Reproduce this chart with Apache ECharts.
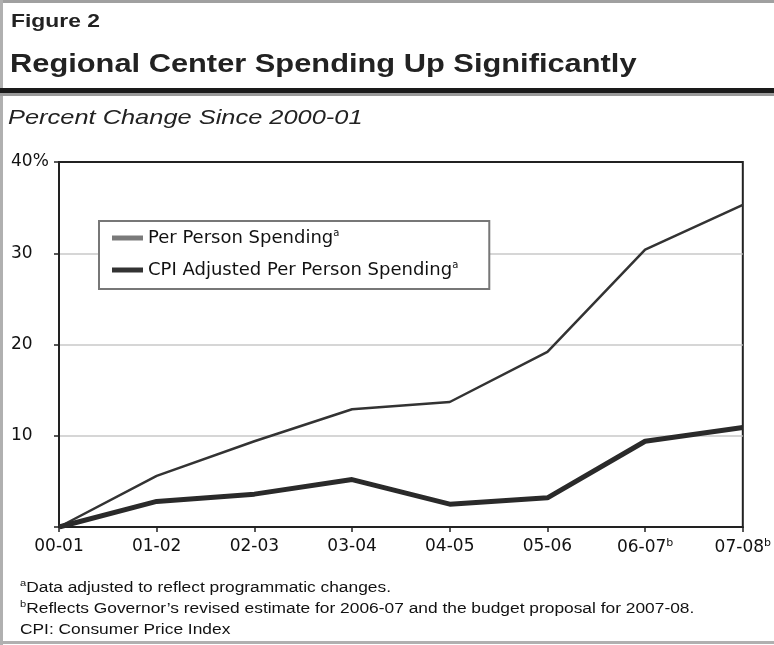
<!DOCTYPE html>
<html>
<head>
<meta charset="utf-8">
<script src="https://cdn.jsdelivr.net/npm/echarts@6/dist/echarts.min.js"></script>
<style>
html,body{margin:0;padding:0;background:#fff;}
#chart{width:774px;height:645px;}
</style>
</head>
<body>
<div id="chart"></div>
<script>
var categories = ['00-01', '01-02', '02-03', '03-04', '04-05', '05-06', '06-07', '07-08'];
var categoryNotes = ['', '', '', '', '', '', 'b', 'b'];
var perPersonSpending = [0, 5.6, 9.4, 12.9, 13.7, 19.2, 30.4, 35.3];
var cpiAdjustedSpending = [0, 2.8, 3.6, 5.2, 2.5, 3.2, 9.4, 10.9];
var seriesNames = ['Per Person Spending', 'CPI Adjusted Per Person Spending'];
var yTicks = [0, 10, 20, 30, 40];
var footnotes = [
  ['a', 'Data adjusted to reflect programmatic changes.'],
  ['b', 'Reflects Governor\u2019s revised estimate for 2006-07 and the budget proposal for 2007-08.'],
  ['', 'CPI: Consumer Price Index']
];

var FONT = 'Liberation Sans, Arial, sans-serif';
var WIDE = 'DejaVu Sans, sans-serif';
var chart = echarts.init(document.getElementById('chart'), null, {renderer: 'canvas'});

function headerText(str, font, x, y, sx) {
  return {type: 'text', x: x, y: y, scaleX: sx, silent: true,
    style: {text: str, x: 0, y: 0, font: font, fill: '#222', verticalAlign: 'middle', align: 'left'}};
}

var graphics = [
  {type: 'rect', shape: {x: 0, y: 0, width: 774, height: 3}, style: {fill: '#a0a0a0'}, silent: true},
  {type: 'rect', shape: {x: 0, y: 0, width: 3, height: 645}, style: {fill: '#b0b0b0'}, silent: true},
  {type: 'rect', shape: {x: 0, y: 641, width: 774, height: 3}, style: {fill: '#b0b0b0'}, silent: true},
  {type: 'rect', shape: {x: 0, y: 88, width: 774, height: 5}, style: {fill: '#1a1a1a'}, silent: true},
  {type: 'rect', shape: {x: 0, y: 93, width: 774, height: 3}, style: {fill: '#999'}, silent: true},
  headerText('Figure 2', 'bold 18px ' + FONT, 11, 22, 1.27),
  headerText('Regional Center Spending Up Significantly', 'bold 26px ' + FONT, 10, 65, 1.185),
  headerText('Percent Change Since 2000-01', 'italic 21px ' + FONT, 8, 118, 1.21)
];
var fnY = [588, 609, 630];
footnotes.forEach(function (f, i) {
  graphics.push({type: 'text', x: 20, y: fnY[i], scaleX: 1.24, silent: true,
    style: {
      text: (f[0] ? '{s|' + f[0] + '}' : '') + f[1],
      x: 0, y: 0, font: '14px ' + FONT, fill: '#111', verticalAlign: 'middle', lineHeight: 18,
      rich: {s: {fontSize: 9, verticalAlign: 'top', lineHeight: 18, fill: '#111', padding: [0, 0, 7, 0]}}
    }});
});

var option = {
  backgroundColor: '#fff',
  animation: false,
  grid: {left: 59, right: 31, top: 162, bottom: 118, show: true, borderColor: '#222', borderWidth: 2, containLabel: false},
  legend: {
    orient: 'vertical',
    left: 99, top: 221,
    padding: [7, 31, 9, 13],
    itemGap: 12,
    itemWidth: 31,
    itemHeight: 5,
    borderColor: '#777',
    borderWidth: 2,
    backgroundColor: '#fff',
    data: [
      {name: seriesNames[0], icon: 'rect', itemStyle: {color: '#7a7a7a'}},
      {name: seriesNames[1], icon: 'rect', itemStyle: {color: '#333'}}
    ],
    formatter: function (n) { return n + '{sup|a}'; },
    textStyle: {
      fontFamily: WIDE, fontSize: 18, color: '#111', lineHeight: 20,
      rich: {sup: {fontSize: 10, verticalAlign: 'top', fontFamily: WIDE, color: '#111', lineHeight: 20, padding: [0, 0, 8, 0]}}
    }
  },
  xAxis: {
    type: 'category',
    data: categories,
    boundaryGap: false,
    axisLine: {lineStyle: {color: '#222', width: 2}},
    axisTick: {show: true, length: 5, lineStyle: {color: '#222', width: 1.5}},
    axisLabel: {
      margin: 11,
      interval: 0,
      fontFamily: WIDE, fontSize: 17, color: '#111',
      formatter: function (v, i) { return categoryNotes[i] ? v + '{sup|' + categoryNotes[i] + '}' : v; },
      rich: {sup: {fontSize: 11, verticalAlign: 'top', fontFamily: WIDE, color: '#111', padding: [0, 0, 9, 0]}}
    },
    splitLine: {show: false}
  },
  yAxis: {
    type: 'value',
    min: yTicks[0], max: yTicks[yTicks.length - 1], interval: 10,
    axisLine: {show: true, lineStyle: {color: '#222', width: 2}},
    axisTick: {show: true, length: 5, lineStyle: {color: '#222', width: 1.5}},
    axisLabel: {
      align: 'left', margin: 48,
      fontFamily: WIDE, fontSize: 17, color: '#111',
      formatter: function (v) { return v === 0 ? '' : (v === 40 ? v + '%' : String(v)); }
    },
    splitLine: {show: true, lineStyle: {color: ['#222', '#c8c8c8', '#c8c8c8', '#c8c8c8', '#222'], width: 1.5}}
  },
  series: [
    {
      name: seriesNames[0], type: 'line', data: perPersonSpending,
      symbol: 'none', lineStyle: {color: '#333', width: 2.5}, itemStyle: {color: '#7a7a7a'}, z: 3
    },
    {
      name: seriesNames[1], type: 'line', data: cpiAdjustedSpending,
      symbol: 'none', lineStyle: {color: '#2a2a2a', width: 5}, itemStyle: {color: '#333'}, z: 4
    }
  ],
  graphic: graphics
};
chart.setOption(option);
</script>
</body>
</html>
